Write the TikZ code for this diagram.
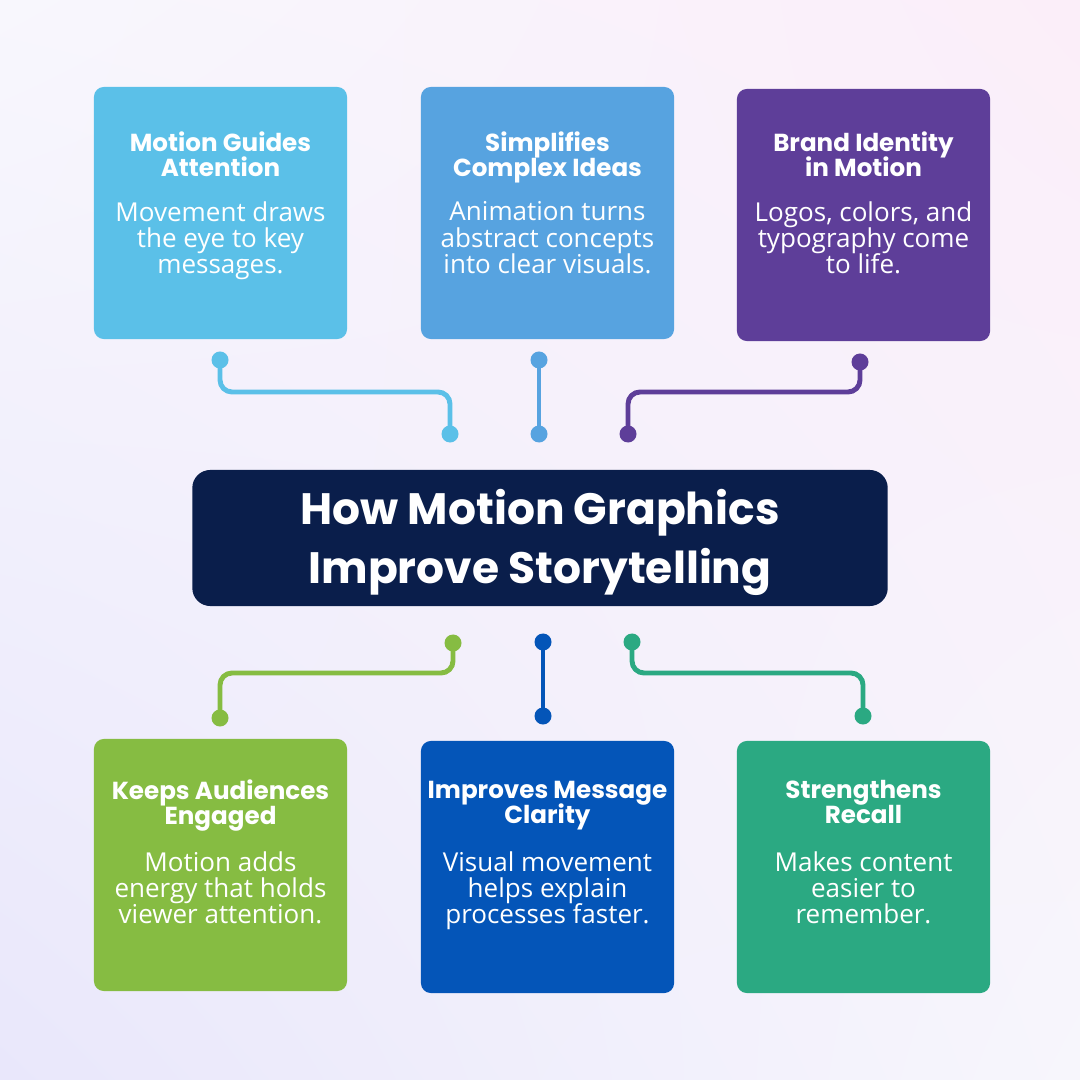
\documentclass[tikz,border=0pt]{standalone}
\usepackage{fontspec}
\setmainfont{Open Sans}
\newfontfamily\headfont{Poppins}
\usetikzlibrary{shadings}

\newcommand\cardtight{\lineskiplimit=-10pt\relax}

\definecolor{skyblue}{HTML}{5BC0E8}
\definecolor{midblue}{HTML}{57A3E0}
\definecolor{royal}{HTML}{5E3E99}
\definecolor{leaf}{HTML}{86BC42}
\definecolor{deepblue}{HTML}{0455B8}
\definecolor{teal}{HTML}{2BA982}
\definecolor{navy}{HTML}{0A1E4B}
\definecolor{bgul}{HTML}{F8F7FD}
\definecolor{bgur}{HTML}{FBEEF9}
\definecolor{bgll}{HTML}{E9E7FB}
\definecolor{bglr}{HTML}{F7F6FC}

\tikzset{
  card/.style={rounded corners=0.1cm, minimum width=2.53cm, minimum height=2.52cm, inner sep=0pt},
  cardhead/.style={text=white, align=center,
    font=\headfont\bfseries\fontsize{7}{7.1}\selectfont\cardtight,
    execute at end node=\strut},
  cardbody/.style={text=white, align=center,
    font=\fontsize{7.4}{7.5}\selectfont\cardtight,
    execute at end node=\strut},
  link/.style={line width=1.4pt, rounded corners=0.12cm},
  dot/.style={circle, inner sep=0pt, minimum size=0.17cm},
}

\begin{document}
\begin{tikzpicture}[x=0.01cm, y=-0.01cm]

% background
\shade[upper left=bgul, upper right=bgur, lower left=bgll, lower right=bglr]
  (0,0) rectangle (1080,1080);
\useasboundingbox (0,0) rectangle (1080,1080);

% centre
\node[fill=navy, rounded corners=0.18cm, minimum width=6.95cm, minimum height=1.36cm] (hub) at (540,538) {};
\node[text=white, align=center, font=\headfont\bfseries\fontsize{12.5}{16.8}\selectfont] (hubtext) at (540,542)
  {How Motion Graphics\\Improve Storytelling};

% cards, top row
\node[card, fill=skyblue] (c1) at (220.5,213) {};
\node[card, fill=midblue] (c2) at (547.5,213) {};
\node[card, fill=royal] (c3) at (863.5,215) {};
% cards, bottom row
\node[card, fill=leaf] (c4) at (220.5,865) {};
\node[card, fill=deepblue] (c5) at (547.5,867) {};
\node[card, fill=teal] (c6) at (863.5,867) {};

% card texts
\node[cardhead] (h1) at (220.5,158) {Motion Guides\\Attention};
\node[cardbody] (b1) at (220.5,241.5) {Movement draws\\the eye to key\\messages.};
\node[cardhead] (h2) at (547.5,158) {Simplifies\\Complex Ideas};
\node[cardbody] (b2) at (547.5,241.5) {Animation turns\\abstract concepts\\into clear visuals.};
\node[cardhead] (h3) at (863.5,158) {Brand Identity\\in Motion};
\node[cardbody] (b3) at (863.5,241.5) {Logos, colors, and\\typography come\\to life.};

\node[cardhead] (h4) at (220.5,806) {Keeps Audiences\\Engaged};
\node[cardbody] (b4) at (220.5,891.5) {Motion adds\\energy that holds\\viewer attention.};
\node[cardhead] (h5) at (547.5,806) {Improves Message\\Clarity};
\node[cardbody] (b5) at (547.5,891.5) {Visual movement\\helps explain\\processes faster.};
\node[cardhead] (h6) at (863.5,806) {Strengthens\\Recall};
\node[cardbody] (b6) at (863.5,891.5) {Makes content\\easier to\\remember.};

% connector dots
\node[dot, fill=skyblue] (p1) at (220,360) {};
\node[dot, fill=skyblue] (q1) at (450,434) {};
\node[dot, fill=midblue] (p2) at (539,360) {};
\node[dot, fill=midblue] (q2) at (539,434) {};
\node[dot, fill=royal] (p3) at (860,362) {};
\node[dot, fill=royal] (q3) at (628,434) {};
\node[dot, fill=leaf] (p4) at (453,643) {};
\node[dot, fill=leaf] (q4) at (220,718) {};
\node[dot, fill=deepblue] (p5) at (543,642) {};
\node[dot, fill=deepblue] (q5) at (543,716) {};
\node[dot, fill=teal] (p6) at (632,642) {};
\node[dot, fill=teal] (q6) at (863,716) {};

\coordinate (k1) at (335,392);
\coordinate (k3) at (744,392);
\coordinate (k4) at (336,673);
\coordinate (k6) at (747,673);

% connectors
\draw[link, skyblue] (p1.center) |- (k1) -| (q1.center);
\draw[link, midblue] (p2.center) -- (q2.center);
\draw[link, royal] (p3.center) |- (k3) -| (q3.center);
\draw[link, leaf] (p4.center) |- (k4) -| (q4.center);
\draw[link, deepblue] (p5.center) -- (q5.center);
\draw[link, teal] (p6.center) |- (k6) -| (q6.center);

\end{tikzpicture}
\end{document}
